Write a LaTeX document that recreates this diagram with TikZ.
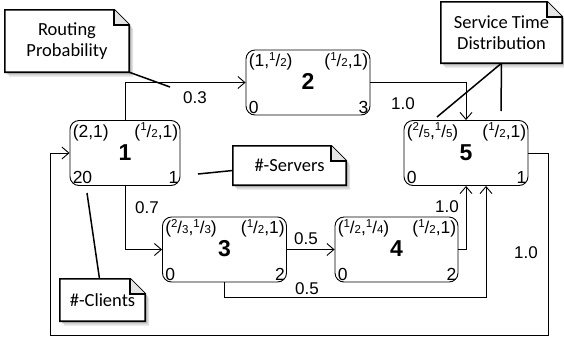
\documentclass[tikz,border=0pt]{standalone}
\usepackage{fontspec}
\setmainfont{Liberation Sans}
\newfontfamily\notefont{Carlito}
\usetikzlibrary{arrows.meta,calc}
\pgfdeclarelayer{background}
\pgfsetlayers{background,main}
\newcommand{\fr}[2]{\raisebox{0.36em}{\fontsize{11.5}{11.5}\selectfont#1}{\fontsize{17}{17}\selectfont/}{\fontsize{11.5}{11.5}\selectfont#2}}
\newcommand{\qlabels}[6]{%
  \node[clab, anchor=base west] (#1tl) at ($(#1.north west)+(3,17)$) {#2};
  \node[clab, anchor=base east] (#1tr) at ($(#1.north east)+(-2,17)$) {#3};
  \node[numlab, anchor=base] (#1num) at ($(#1.center)+(0,7)$) {#4};
  \node[clab, anchor=base west] (#1bl) at ($(#1.south west)+(3,-2)$) {#5};
  \node[clab, anchor=base east] (#1br) at ($(#1.south east)+(-2,-2)$) {#6};
}
\newcommand{\notebox}[1]{%
  \begin{pgfonlayer}{background}
  \fill[black!12] ($(#1.south west)+(4,4.5)$) -- ($(#1.north west)+(4,4.5)$) -- ($(#1.north east)+(-11,4.5)$) -- ($(#1.north east)+(4,19.5)$) -- ($(#1.south east)+(4,4.5)$) -- cycle;
  \fill[black!22] ($(#1.south west)+(2.5,2.5)$) -- ($(#1.north west)+(2.5,2.5)$) -- ($(#1.north east)+(-12.5,2.5)$) -- ($(#1.north east)+(2.5,17.5)$) -- ($(#1.south east)+(2.5,2.5)$) -- cycle;
  \filldraw[noteline, fill=white] (#1.south west) -- (#1.north west) -- ($(#1.north east)+(-15,0)$) -- ($(#1.north east)+(0,15)$) -- (#1.south east) -- cycle;
  \filldraw[noteline, fill=black!10] ($(#1.north east)+(-15,0)$) -- ($(#1.north east)+(-15,15)$) -- ($(#1.north east)+(0,15)$);
  \end{pgfonlayer}
}
\begin{document}
\begin{tikzpicture}[x=1pt,y=-1pt,
  qnode/.style={draw, rounded corners=9pt, line width=0.9pt, minimum width=124pt, minimum height=65pt, inner sep=0pt},
  clab/.style={inner sep=0pt, font=\fontsize{17.5}{17.5}\selectfont},
  numlab/.style={inner sep=0pt, font=\fontsize{23}{23}\selectfont\bfseries},
  elab/.style={inner sep=0pt, font=\fontsize{17}{17}\selectfont},
  edge/.style={line width=0.8pt, -{Straight Barb[length=7pt,width=12pt,line width=0.9pt]}},
  note/.style={inner sep=0pt, align=center, font=\notefont\fontsize{18.5}{20.5}\selectfont},
  noteline/.style={line width=1.6pt, line join=miter},
  pointer/.style={line width=1.5pt}]
\useasboundingbox (0,0) rectangle (564,338);

% queue nodes
\node[qnode, minimum width=110pt] (n1) at (125,153) {};
\node[qnode] (n2) at (308,82.5) {};
\node[qnode] (n5) at (466,153) {};
\node[qnode] (n3) at (224.5,249.5) {};
\node[qnode, minimum width=123pt] (n4) at (396.5,249.5) {};

\qlabels{n1}{(2,1)}{(\fr12,1)}{1}{20}{1}
\qlabels{n2}{(1,\fr12)}{(\fr12,1)}{2}{0}{3}
\qlabels{n3}{(\fr23,\fr13)}{(\fr12,1)}{3}{0}{2}
\qlabels{n4}{(\fr12,\fr14)}{(\fr12,1)}{4}{0}{2}
\qlabels{n5}{(\fr25,\fr15)}{(\fr12,1)}{5}{0}{1}

% routing edges
\coordinate (lp1) at (548,335);
\coordinate (lp2) at (50,335);
\draw[edge] (n1.north) |- (n2.west);
\draw[edge] (n1.south) |- (n3.west);
\draw[edge] (n2.east) -| (n5.north);
\draw[edge] (n3.east) -- (n4.west);
\draw[edge] (n4.east) -| (n5.south);
\draw[edge] (n3.south) -- ++(0,15) -| ($(n5.south)+(20,0)$);
\draw[edge] (n5.east) -| (lp1) -- (lp2) |- (n1.west);

% edge labels
\node[elab] (e12) at (195,98) {0.3};
\node[elab] (e13) at (147,208) {0.7};
\node[elab] (e25) at (403,104) {1.0};
\node[elab] (e34) at (306,239) {0.5};
\node[elab] (e45) at (447,207) {1.0};
\node[elab] (e35) at (307,289) {0.5};
\node[elab] (e51) at (526,253) {1.0};

% callouts
\node[note, minimum width=124pt, minimum height=62pt] (rp) at (67,41) {Routing\\Probability};
\node[note, minimum width=113pt, minimum height=39pt] (srv) at (289.5,165.5) {\#-Servers};
\node[note, minimum width=121pt, minimum height=61pt] (std) at (501.5,32.5) {Service Time\\Distribution};
\node[note, minimum width=85pt, minimum height=42pt] (cli) at (102.5,300) {\#-Clients};
\notebox{rp}
\notebox{srv}
\notebox{std}
\notebox{cli}

\coordinate (rpend) at (170,87);
\coordinate (srvend) at (198,174);
\coordinate (stdend1) at (437,117);
\coordinate (stdend2) at (501,111);
\coordinate (cliend) at (87,193);
\draw[pointer] (rp.south east) -- (rpend);
\draw[pointer] ($(srv.west)+(0,5)$) -- (srvend);
\draw[pointer] (std.south) -- (stdend1);
\draw[pointer] (std.south) -- (stdend2);
\draw[pointer] ($(cli.north)+(-3,0)$) -- (cliend);
\end{tikzpicture}
\end{document}
